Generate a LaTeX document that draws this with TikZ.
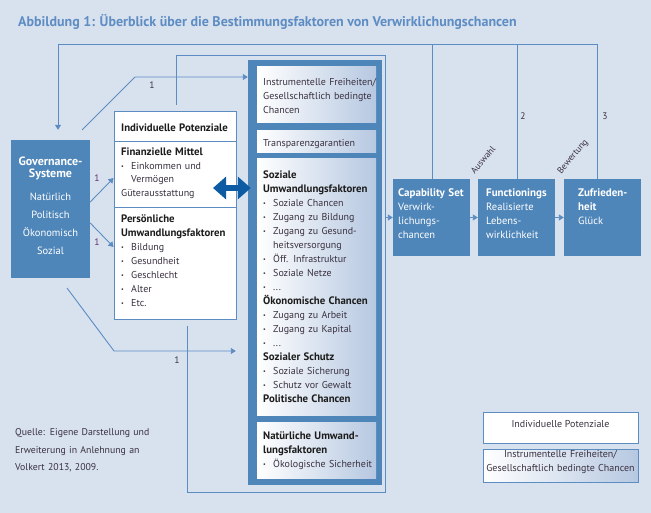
\documentclass[tikz,border=0pt]{standalone}
\usepackage{fontspec}
\usepackage{graphicx}
\setmainfont{PT Sans}
\usetikzlibrary{arrows.meta,fit}
\definecolor{bgc}{HTML}{D8E1EE}
\definecolor{boxc}{HTML}{4F86BA}
\definecolor{linec}{HTML}{5B8CC2}
\definecolor{titlec}{HTML}{5E8DC3}
\definecolor{darkc}{HTML}{0D5CA3}
\definecolor{txtc}{HTML}{3A3140}
\definecolor{hdc}{HTML}{1C1C1C}
\definecolor{purp}{HTML}{5E2F72}
\definecolor{gradc}{HTML}{B6C8E1}
\newcommand\bl{\makebox[10pt][l]{\raisebox{0.8pt}{\scalebox{0.6}{\textbullet}}}}
\newcommand\ind{\hspace*{10pt}}
\newcommand\hd[1]{{\fontsize{10.8}{14}\selectfont\textcolor{hdc}{\textbf{#1}}}}
\newcommand\wb[1]{{\fontsize{11}{14}\selectfont\textbf{#1}}}
\tikzset{
  conn/.style={draw=linec, line width=0.9pt},
  arr/.style={conn, -{Triangle[length=5pt,width=6pt]}},
  dbl/.style={draw=darkc, line width=6.5pt, {Triangle[length=13pt,width=22pt]}-{Triangle[length=13pt,width=22pt]}},
  bluebox/.style={fill=boxc, draw=none, inner sep=0},
  gradbox/.style={left color=white, right color=gradc, draw=none, inner sep=0},
  whitebox/.style={fill=white, draw=linec, line width=0.9pt, inner sep=0},
  txt/.style={anchor=base west, inner sep=0, align=left, text=txtc, font=\fontsize{10}{14}\selectfont},
  wtxt/.style={txt, text=white, font=\fontsize{10.5}{14}\selectfont},
  lbl/.style={inner sep=0, font=\fontsize{9.5}{11}\selectfont, text=txtc},
}
\begin{document}
\begin{tikzpicture}[x=1pt,y=-1pt]
\fill[bgc] (0,0) rectangle (651,513);
\useasboundingbox (0,0) rectangle (651,513);

\node[anchor=base west, inner sep=0, text=titlec, font=\fontsize{14}{16}\selectfont\bfseries] (title) at (18,27)
  {Abbildung 1: Überblick über die Bestimmungsfaktoren von Verwirklichungschancen};

% boxes
\node[fit={(11,140) (90,278)}, bluebox] (gov) {};
\node[fit={(114,111) (236,319)}, whitebox] (ip) {};
\draw[conn] (114,141) -- (236,141);
\draw[conn] (114,207) -- (236,207);
\node[fit={(248,60) (382,485)}, bluebox] (frame) {};
\node[fit={(257,67) (376,123)}, gradbox] (b1) {};
\node[fit={(257,131) (376,153)}, gradbox] (b2) {};
\node[fit={(257,159) (376,415)}, gradbox] (b3) {};
\node[fit={(257,422) (376,478)}, gradbox] (b4) {};
\node[fit={(393,179) (470,256)}, bluebox] (cap) {};
\node[fit={(478,179) (555,256)}, bluebox] (fun) {};
\node[fit={(564,179) (641,256)}, bluebox] (zuf) {};
\node[fit={(483,412) (638,443)}, whitebox, text=txtc, font=\fontsize{10}{14}\selectfont] (leg1) {Individuelle Potenziale};
\node[fit={(483,449) (638,482)}, gradbox, draw=linec, line width=0.9pt, text=txtc, font=\fontsize{10}{14}\selectfont, align=center] (leg2) {Instrumentelle Freiheiten/\\Gesellschaftlich bedingte Chancen};

% texts
\node[wtxt, anchor=base, align=center, text width=79pt, font=\fontsize{12}{11.5}\selectfont\bfseries] (govh) at (50.5,166) {Governance-\\Systeme};
\node[wtxt, anchor=base, align=center, text width=79pt, font=\fontsize{10.5}{18}\selectfont] (govl) at (50.5,200.5) {Natürlich\\Politisch\\Ökonomisch\\Sozial};

\node[txt, text width=118pt] (iph) at (121,131.5) {\hd{Individuelle Potenziale}};
\node[txt, text width=118pt, font=\fontsize{10}{13.7}\selectfont] (ipf) at (121,155.5) {\hd{Finanzielle Mittel}\\\bl Einkommen und\\\ind Vermögen\\Güterausstattung};
\node[txt, text width=118pt] (ipp) at (121,222.5) {\hd{Persönliche}\\\hd{Umwandlungsfaktoren}\\\bl Bildung\\\bl Gesundheit\\\bl Geschlecht\\\bl Alter\\\bl Etc.};

\node[txt, text width=118pt] (b1t) at (263,85.5) {Instrumentelle Freiheiten/\\Gesellschaftlich bedingte\\Chancen};
\node[txt, text width=118pt] (b2t) at (263,146.5) {Transparenzgarantien};
\node[txt, text width=118pt] (b3t) at (263,178.5) {\hd{Soziale}\\\hd{Umwandlungsfaktoren}\\\bl Soziale Chancen\\\bl Zugang zu Bildung\\\bl Zugang zu Gesund-\\\ind heitsversorgung\\\bl Öff. Infrastruktur\\\bl Soziale Netze\\\bl ...\\\hd{Ökonomische Chancen}\\\bl Zugang zu Arbeit\\\bl Zugang zu Kapital\\\bl ...\\\hd{Sozialer Schutz}\\\bl Soziale Sicherung\\\bl Schutz vor Gewalt\\\hd{Politische Chancen}};
\node[txt, text width=118pt] (b4t) at (263,439.5) {\hd{Natürliche Umwand-}\\\hd{lungsfaktoren}\\\bl Ökologische Sicherheit};

\node[wtxt, text width=72pt] (capt) at (398,196.5) {\wb{Capability Set}\\Verwirk-\\lichungs-\\chancen};
\node[wtxt, text width=72pt] (funt) at (486,196.5) {\wb{Functionings}\\Realisierte\\Lebens-\\wirklichkeit};
\node[wtxt, text width=62pt] (zuft) at (578,196.5) {\wb{Zufrieden-}\\\wb{heit}\\Glück};

\node[txt, text width=150pt, font=\fontsize{9.8}{17.5}\selectfont] (src) at (15,435.5) {Quelle: Eigene Darstellung und\\Erweiterung in Anlehnung an\\Volkert 2013, 2009.};

% connectors
\coordinate (c0) at (58,44);
\coordinate (c1) at (432,44);
\coordinate (c2) at (517,44);
\coordinate (c3) at (597,44);
\draw[arr, shorten >=10pt] (zuf.north -| c3) -- (c3) -- (c0) -- (gov.north -| c0);
\draw[conn] (fun.north -| c2) -- (c2);
\draw[conn] (cap.north -| c1) -- (c1);

\coordinate (k1) at (176,55);
\coordinate (k2) at (385,55);
\coordinate (k3) at (385,492);
\coordinate (k4) at (187,492);
\draw[conn, shorten <=6pt, shorten >=7pt] (ip.north -| k1) -- (k1) -- (k2) -- (k3) -- (k4) -- (ip.south -| k4);
\draw[arr] (cap.west -| k2) -- (cap.west);

\coordinate (u0) at (82,130);
\coordinate (u1) at (135,77);
\draw[arr] (u0) -- (u1) -- (frame.west |- u1);
\coordinate (l0) at (67,288);
\coordinate (l1) at (114,351);
\draw[arr, shorten >=12pt] (l0) -- (l1) -- (frame.west |- l1);

\draw[arr] ([yshift=7pt]gov.east) -- ([yshift=37pt]ip.west);
\draw[arr] ([yshift=-14pt]gov.east) -- ([yshift=-32pt]ip.west);

\coordinate (da) at (213,188);
\draw[dbl] (da) -- ([xshift=3pt]frame.west |- da);

\draw[arr] (cap.east) -- (fun.west);
\draw[arr] (fun.east) -- (zuf.west);

% labels
\node[lbl, text=purp] (n1a) at (97,178) {1};
\node[lbl, text=purp] (n1b) at (97,242) {1};
\node[lbl] (n1c) at (152,85) {1};
\node[lbl] (n1d) at (177,360) {1};
\node[lbl] (n2) at (523,116) {2};
\node[lbl] (n3) at (605,116) {3};
\node[lbl, rotate=50, font=\fontsize{9}{9}\selectfont] (ausw) at (483,160) {Auswahl};
\node[lbl, rotate=50, font=\fontsize{9}{9}\selectfont] (bew) at (573,157) {Bewertung};
\end{tikzpicture}
\end{document}
